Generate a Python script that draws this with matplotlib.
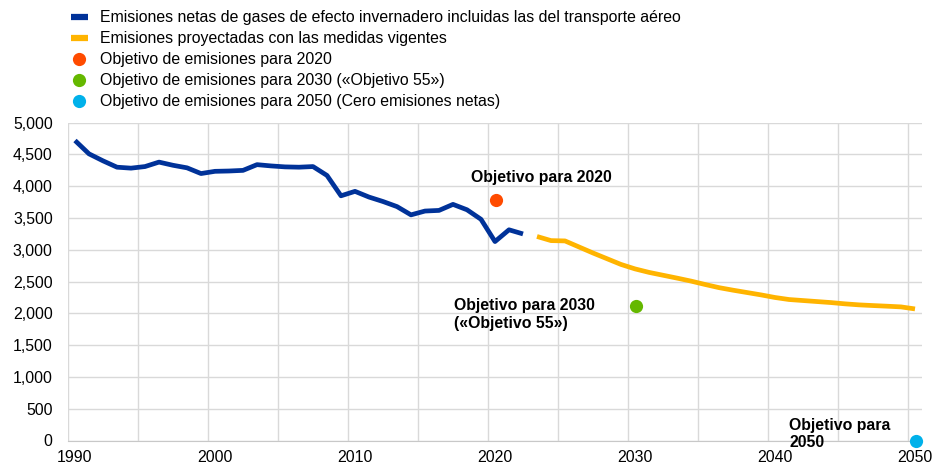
import matplotlib
matplotlib.use("Agg")
import matplotlib.pyplot as plt
from matplotlib.lines import Line2D

plt.rcParams['font.family'] = ['Liberation Sans', 'DejaVu Sans']

hist_years = list(range(1990, 2023))
hist_values = [4720, 4510, 4400, 4300, 4285, 4310, 4380, 4330, 4290, 4200,
               4235, 4240, 4250, 4340, 4320, 4305, 4300, 4310, 4170, 3850,
               3920, 3830, 3760, 3680, 3550, 3610, 3620, 3715, 3630, 3480,
               3130, 3315, 3250]
proj_years = list(range(2023, 2051))
proj_values = [3210, 3145, 3140, 3045, 2950, 2860, 2770, 2700, 2645, 2600,
               2555, 2508, 2455, 2405, 2365, 2328, 2291, 2250, 2218, 2202,
               2186, 2170, 2150, 2134, 2123, 2113, 2102, 2070]
target_years = [2020, 2030, 2050]
target_values = [3780, 2120, 0]
target_colors = ['#FF4B00', '#65B800', '#00B1EA']

legend_labels = [
    "Emisiones netas de gases de efecto invernadero incluidas las del transporte aéreo",
    "Emisiones proyectadas con las medidas vigentes",
    "Objetivo de emisiones para 2020",
    "Objetivo de emisiones para 2030 («Objetivo 55»)",
    "Objetivo de emisiones para 2050 (Cero emisiones netas)",
]
annotations = ["Objetivo para 2020", "Objetivo para 2030\n(«Objetivo 55»)", "Objetivo para\n2050"]

BLUE = '#003299'
YELLOW = '#FFB400'
GRID = '#d9d9d9'
FS = 11.4

fig = plt.figure(figsize=(9.34, 4.66), dpi=100)
ax = fig.add_axes([68/934, 1-440.5/466, (922-68)/934, (440.5-122.7)/466])

ax.plot(hist_years, hist_values, color=BLUE, lw=3.4, solid_capstyle='butt', zorder=3)
ax.plot(proj_years, proj_values, color=YELLOW, lw=3.4, solid_capstyle='butt', zorder=3)
for yr, v, c in zip(target_years, target_values, target_colors):
    ax.plot([yr + 0.1], [v], 'o', color=c, ms=9.5, mec='none', zorder=4, clip_on=False)

ax.set_xlim(1989.5, 2050.5)
ax.set_ylim(0, 5000)
ax.set_yticks(range(0, 5001, 500))
ax.set_yticklabels([f"{v:,}" for v in range(0, 5001, 500)])
ax.set_xticks(range(1990, 2051, 10))
ax.set_xticks([1989.5 + 5*k for k in range(13)], minor=True)
ax.tick_params(axis='both', which='both', length=0, labelsize=FS, colors='#000000')
ax.tick_params(axis='y', pad=11)
ax.tick_params(axis='x', pad=7)
ax.grid(axis='y', which='major', color=GRID, lw=1)
ax.grid(axis='x', which='minor', color=GRID, lw=1)
ax.grid(axis='x', which='major', visible=False)
for s in ['top', 'right', 'left']:
    ax.spines[s].set_visible(False)
ax.spines['bottom'].set_color('#c8c8c8')
ax.set_axisbelow(True)

ax.text(2023.3, 4130, annotations[0], fontsize=FS, fontweight='bold', ha='center', va='center')
ax.text(2017.1, 1980, annotations[1], fontsize=FS, fontweight='bold', ha='left', va='center', linespacing=1.2)
ax.text(2041.0, 100, annotations[2], fontsize=FS, fontweight='bold', ha='left', va='center', linespacing=1.2, clip_on=False)

handles = [
    Line2D([], [], color=BLUE, lw=4.5, solid_capstyle='butt'),
    Line2D([], [], color=YELLOW, lw=4.5, solid_capstyle='butt'),
] + [Line2D([], [], ls='none', marker='o', color=c, ms=9.5, mec='none') for c in target_colors]
fig.legend(handles, legend_labels, loc='upper left', bbox_to_anchor=(64.5/934, 1.0 - 4/466),
           frameon=False, fontsize=FS, handlelength=1.08, handletextpad=0.76,
           labelspacing=0.38, borderaxespad=0)

fig.savefig('out.png', dpi=100)
